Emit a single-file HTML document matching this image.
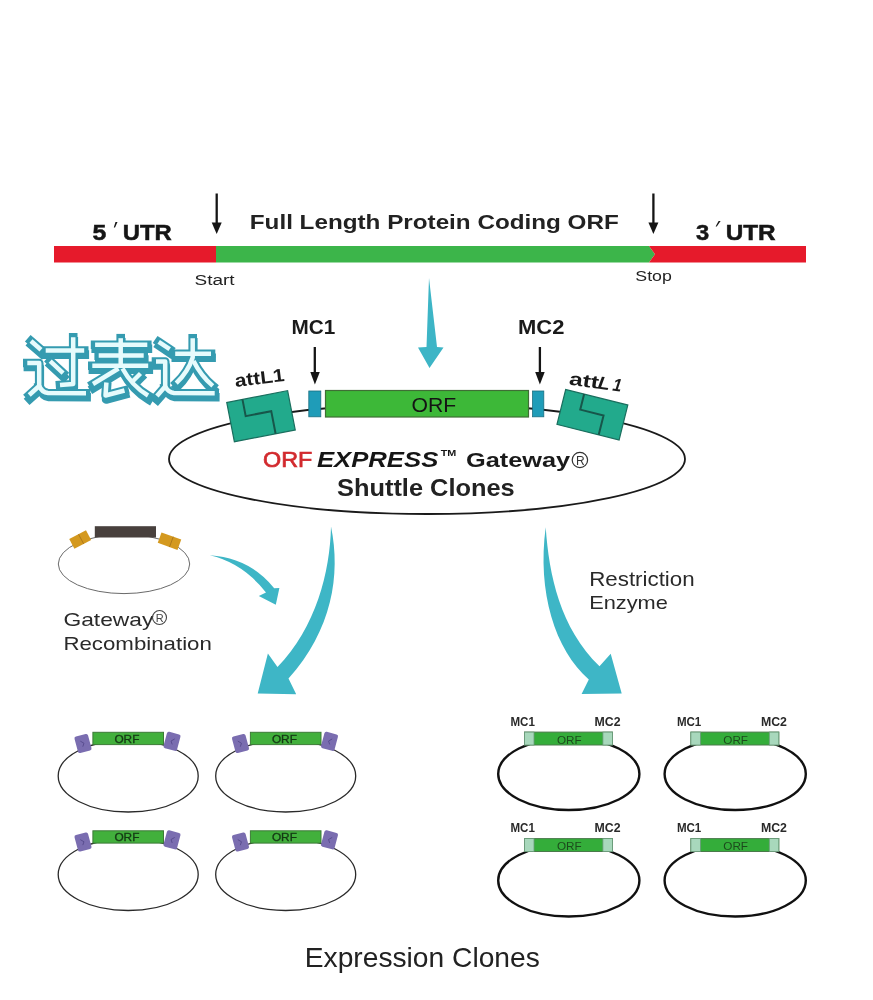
<!DOCTYPE html>
<html><head><meta charset="utf-8">
<style>
html,body{margin:0;padding:0;background:#fff;width:873px;height:1000px;overflow:hidden}
svg{display:block;filter:blur(0.4px)}
text{font-family:"Liberation Sans",sans-serif}
</style></head>
<body>
<svg width="873" height="1000" viewBox="0 0 873 1000">
<rect width="873" height="1000" fill="#fff"/>

<!-- ===== top bar ===== -->
<rect x="54" y="246" width="162" height="16.5" fill="#e61a2b"/>
<polygon points="216,246 649,246 655,254.25 649,262.5 216,262.5" fill="#3cb54a"/>
<polygon points="649,246 806,246 806,262.5 649,262.5 655,254.25" fill="#e61a2b"/>

<!-- arrows -->
<g stroke="#151515" stroke-width="2.3"><line x1="216.7" y1="193.5" x2="216.7" y2="226"/><line x1="653.4" y1="193.5" x2="653.4" y2="226"/></g>
<polygon points="211.7,222.4 221.7,222.4 216.7,234" fill="#151515"/>
<polygon points="648.4,222.4 658.4,222.4 653.4,234" fill="#151515"/>

<text x="249.8" y="229" font-size="21" font-weight="bold" fill="#222" textLength="369" lengthAdjust="spacingAndGlyphs">Full Length Protein Coding ORF</text>
<g fill="#151515" stroke="#151515" stroke-width="0.5" font-weight="bold" font-size="22">
<text x="92.4" y="240.2" textLength="13.8" lengthAdjust="spacingAndGlyphs">5</text>
<path d="M115.5,222 L117.5,222 L115,227.5 L113.8,227.5 Z" stroke="none"/>
<text x="122.8" y="240.2" textLength="49" lengthAdjust="spacingAndGlyphs">UTR</text>
</g>
<g fill="#151515" stroke="#151515" stroke-width="0.5" font-weight="bold" font-size="22">
<text x="695.9" y="240" textLength="13.2" lengthAdjust="spacingAndGlyphs">3</text>
<path d="M718.6,221 L720.6,221 L716.8,226.5 L715.6,226.5 Z" stroke="none"/>
<text x="725.7" y="240" textLength="50" lengthAdjust="spacingAndGlyphs">UTR</text>
</g>
<text x="194.6" y="284.7" font-size="15.5" fill="#222" textLength="40" lengthAdjust="spacingAndGlyphs">Start</text>
<text x="635.3" y="280.8" font-size="15.5" fill="#222" textLength="36.5" lengthAdjust="spacingAndGlyphs">Stop</text>

<!-- big down arrow (top center) -->
<path d="M429,278 L437,347 L443.5,347.5 L429.5,368 L418,347.5 L426.5,347 Z" fill="#3db5c6"/>


<!-- ===== middle: shuttle clone ===== -->
<ellipse cx="427" cy="459" rx="258" ry="55" fill="none" stroke="#1a1a1a" stroke-width="1.8"/>

<!-- MC labels & arrows -->
<g font-size="21" font-weight="bold" fill="#1a1a1a">
<text x="291.6" y="333.5" textLength="43.8" lengthAdjust="spacingAndGlyphs">MC1</text>
<text x="518" y="333.5" textLength="46.4" lengthAdjust="spacingAndGlyphs">MC2</text>
</g>
<g stroke="#151515" stroke-width="2.3"><line x1="314.8" y1="347" x2="314.8" y2="376"/><line x1="539.9" y1="347" x2="539.9" y2="376"/></g>
<polygon points="310.3,372 319.8,372 314.9,384.5" fill="#151515"/>
<polygon points="535.2,372 544.7,372 539.9,384.5" fill="#151515"/>

<!-- ORF bar -->
<rect x="325.5" y="390.5" width="203" height="26.5" fill="#3db838" stroke="#3f6e35" stroke-width="1.2"/>
<text x="411.5" y="411.5" font-size="21" fill="#141414" textLength="44.7" lengthAdjust="spacingAndGlyphs">ORF</text>
<!-- MC boxes -->
<rect x="308.8" y="391" width="12" height="25.8" fill="#1f9cb8" stroke="#1b6f80" stroke-width="0.8"/>
<rect x="532.6" y="391" width="11.2" height="25.8" fill="#1f9cb8" stroke="#1b6f80" stroke-width="0.8"/>


<!-- attL boxes -->
<g transform="translate(261,416.2) rotate(-11)">
  <rect x="-31" y="-20" width="62" height="40" fill="#22aa8c" stroke="#1a6e5e" stroke-width="1.2"/>
  <path d="M-15,-20 L-15,-3 L11,-3 L11,20" fill="none" stroke="#17564a" stroke-width="2"/>
</g>
<g transform="translate(592.4,414.7) rotate(14)">
  <rect x="-32" y="-18" width="64" height="36" fill="#22aa8c" stroke="#1a6e5e" stroke-width="1.2"/>
  <path d="M-13,-18 L-13,-2 L11,-2 L11,18" fill="none" stroke="#17564a" stroke-width="2"/>
</g>
<text x="0" y="0" font-size="18" font-weight="bold" fill="#1a1a1a" transform="translate(235.5,387) rotate(-7)" textLength="50" lengthAdjust="spacingAndGlyphs">attL1</text>
<g transform="translate(568.5,384.5) rotate(8)" font-size="18" font-weight="bold" fill="#1a1a1a">
<text x="0" y="0" textLength="30" lengthAdjust="spacingAndGlyphs">att</text>
<text x="29" y="0" font-style="italic" textLength="12" lengthAdjust="spacingAndGlyphs">L</text>
<text x="44" y="0" font-style="italic" textLength="9" lengthAdjust="spacingAndGlyphs">1</text>
</g>

<!-- ORFEXPRESS text -->
<text x="263" y="467" font-size="22" fill="#d22a2e" stroke="#d22a2e" stroke-width="0.7" textLength="49.3" lengthAdjust="spacingAndGlyphs">ORF</text>
<text x="316.9" y="467" font-size="22" font-weight="bold" font-style="italic" fill="#151515" textLength="121.4" lengthAdjust="spacingAndGlyphs">EXPRESS</text>
<text x="440.7" y="456" font-size="9" font-weight="bold" fill="#151515" textLength="15.6" lengthAdjust="spacingAndGlyphs">TM</text>
<text x="466" y="466.5" font-size="20" font-weight="bold" fill="#1a1a1a" textLength="104.2" lengthAdjust="spacingAndGlyphs">Gateway</text>
<circle cx="579.9" cy="460" r="7.7" fill="none" stroke="#333" stroke-width="1.2"/>
<text x="575.9" y="464.5" font-size="12" fill="#333">R</text>
<text x="337" y="496.3" font-size="24" font-weight="bold" fill="#222" textLength="177.7" lengthAdjust="spacingAndGlyphs">Shuttle Clones</text>


<!-- ===== lower left: gateway vector ===== -->
<ellipse cx="124" cy="564" rx="65.7" ry="29.6" fill="none" stroke="#6a6a6a" stroke-width="1"/>
<rect x="94.8" y="526.2" width="61.2" height="11.3" fill="#48403d"/>
<g transform="translate(80.2,539.5) rotate(-28)"><rect x="-9.5" y="-5.5" width="19" height="11" fill="#d4991f"/><line x1="1" y1="-5.5" x2="1" y2="5.5" stroke="#a8741a" stroke-width="0.8"/></g>
<g transform="translate(169.5,541.2) rotate(20)"><rect x="-10.5" y="-5.5" width="21" height="11" fill="#d4991f"/><line x1="2" y1="-5.5" x2="2" y2="5.5" stroke="#a8741a" stroke-width="0.8"/></g>
<g font-size="19" fill="#2a2a2a">
<text x="63.4" y="625.5" textLength="90" lengthAdjust="spacingAndGlyphs">Gateway</text>
<text x="63.4" y="650.2" textLength="148.5" lengthAdjust="spacingAndGlyphs">Recombination</text>
<text x="589.2" y="585.5" font-size="20" textLength="105.5" lengthAdjust="spacingAndGlyphs">Restriction</text>
<text x="589.2" y="609" textLength="78.7" lengthAdjust="spacingAndGlyphs">Enzyme</text>
</g>
<circle cx="159.5" cy="617.5" r="7" fill="none" stroke="#444" stroke-width="1.1"/>
<text x="155.8" y="621.8" font-size="11" fill="#444">R</text>

<!-- teal curved arrows -->
<g fill="#3eb6c6">
<path d="M209.8,555.3 Q250,558 274.2,588.3 L279.4,588 L275.8,604.8 L258.8,596 L266,592.5 Q243,563 209.8,555.3 Z"/>
<path d="M331,526.4 C341,575 332,630 288.5,678.5 L296.2,694.3 L257.7,693.4 L267.9,653.4 L277.5,667 C316,627 330,572 331,526.4 Z"/>
<path d="M545.7,527.3 C549,575 560,628 599.5,666.3 L610.7,653.8 L621.7,693.4 L581.6,693.9 L588.8,679.5 C555,650 537,592 545.7,527.3 Z"/>
</g>

<!-- ===== expression clones: left column ===== -->
<defs>
<g id="pl">
  <ellipse cx="128.2" cy="776" rx="70" ry="36" fill="none" stroke="#2a2a2a" stroke-width="1.3"/>
  <rect x="92.9" y="732.3" width="70.6" height="12.3" fill="#42b03c" stroke="#3d7a38" stroke-width="1"/>
  <text x="114.4" y="742.8" font-size="10" fill="#143814" stroke="#143814" stroke-width="0.3" textLength="25" lengthAdjust="spacingAndGlyphs">ORF</text>
  <g transform="translate(83,743.5) rotate(-15)"><rect x="-7" y="-8.5" width="14" height="17" rx="2" fill="#7a6db0"/><path d="M-2,-3 L1,0 L-1,3" fill="none" stroke="#54488a" stroke-width="0.8"/></g>
  <g transform="translate(172,741.3) rotate(15)"><rect x="-7" y="-8.5" width="14" height="17" rx="2" fill="#7a6db0"/><path d="M2,-3 L-1,0 L1,3" fill="none" stroke="#54488a" stroke-width="0.8"/></g>
</g>
<g id="pr">
  <ellipse cx="568.8" cy="774" rx="70.6" ry="36" fill="none" stroke="#111" stroke-width="2.4"/>
  <rect x="524.5" y="732.1" width="87.9" height="12.9" fill="#34ad3a" stroke="#4a7a4a" stroke-width="1"/>
  <rect x="524.5" y="732.1" width="9.5" height="12.9" fill="#a8d8bc" stroke="#6a9a7a" stroke-width="0.8"/>
  <rect x="602.9" y="732.1" width="9.5" height="12.9" fill="#a8d8bc" stroke="#6a9a7a" stroke-width="0.8"/>
  <text x="556.9" y="743.5" font-size="10.5" fill="#1c4a1c" textLength="24.7" lengthAdjust="spacingAndGlyphs">ORF</text>
  <text x="510.5" y="725.5" font-size="12" font-weight="bold" fill="#2a2a2a" textLength="24.4" lengthAdjust="spacingAndGlyphs">MC1</text>
  <text x="594.5" y="725.5" font-size="12" font-weight="bold" fill="#2a2a2a" textLength="26" lengthAdjust="spacingAndGlyphs">MC2</text>
</g>
</defs>
<use href="#pl"/>
<use href="#pl" transform="translate(157.5,0)"/>
<use href="#pl" transform="translate(0,98.5)"/>
<use href="#pl" transform="translate(157.5,98.5)"/>
<use href="#pr"/>
<use href="#pr" transform="translate(166.4,0)"/>
<use href="#pr" transform="translate(0,106.5)"/>
<use href="#pr" transform="translate(166.4,106.5)"/>

<text x="304.8" y="967" font-size="28" fill="#222" textLength="235" lengthAdjust="spacingAndGlyphs">Expression Clones</text>


<!-- ===== 过表达 ===== -->
<defs>
<g id="cjk" fill="none" stroke-linejoin="round">
  <!-- 过 -->
  <path d="M31,341 L41,349.7"/>
  <path d="M45.7,350.6 L84.2,350.6"/>
  <path d="M73.2,337.3 L73.2,384 L60,385"/>
  <path d="M50.2,361.2 L63.1,373.1"/>
  <path d="M27.3,363 L39.2,363 L39.2,386 L29.2,395"/>
  <path d="M39.2,386 Q42,392.5 48,393 L86,393.2"/>
  <!-- 表 -->
  <path d="M95.1,344.7 L147.3,344.7"/>
  <path d="M98.7,355.6 L143.7,355.6"/>
  <path d="M92.3,365.8 L148.2,365.8"/>
  <path d="M120.7,338.2 L120.7,365.8"/>
  <path d="M118.5,368.5 L93,384"/>
  <path d="M106.4,382.5 L105.5,395.5 L124.5,390.5"/>
  <path d="M122.5,368.5 Q132,386 148,395.5"/>
  <path d="M140.5,373.5 L133,381"/>
  <!-- 达 -->
  <path d="M158.7,341.9 L169.7,349.2"/>
  <path d="M175.2,353.8 L211,353.8"/>
  <path d="M192.7,338.2 L192.7,357.5 Q188,372 176.2,383.2"/>
  <path d="M193.5,361 Q201,376 212.8,385.9"/>
  <path d="M156,361.5 L165.2,361.5 L165.2,386.5 L156.9,396"/>
  <path d="M165.2,386.5 Q168.5,392.5 174,393 L214.7,393.2"/>
</g>
</defs>
<use href="#cjk" stroke="#359bb0" stroke-width="8.6" stroke-linecap="square" transform="translate(0.6,4)"/>
<use href="#cjk" stroke="#359bb0" stroke-width="8.6" stroke-linecap="square"/>
<use href="#cjk" stroke="#e6fbfc" stroke-width="4.5" stroke-linecap="butt"/>

</svg>
</body></html>
